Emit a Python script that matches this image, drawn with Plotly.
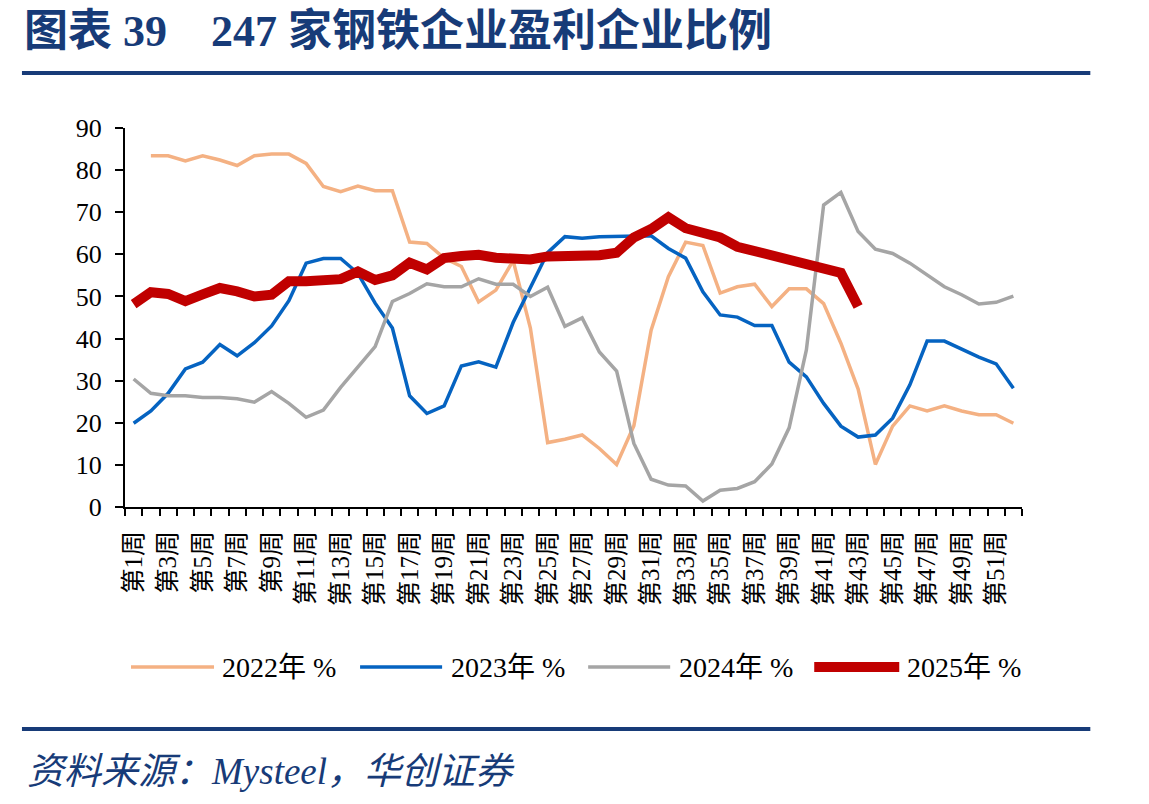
import plotly.graph_objects as go

# ---------------- data ----------------
weeks = ["第1周", "第2周", "第3周", "第4周", "第5周", "第6周", "第7周", "第8周", "第9周", "第10周",
         "第11周", "第12周", "第13周", "第14周", "第15周", "第16周", "第17周", "第18周", "第19周", "第20周",
         "第21周", "第22周", "第23周", "第24周", "第25周", "第26周", "第27周", "第28周", "第29周", "第30周",
         "第31周", "第32周", "第33周", "第34周", "第35周", "第36周", "第37周", "第38周", "第39周", "第40周",
         "第41周", "第42周", "第43周", "第44周", "第45周", "第46周", "第47周", "第48周", "第49周", "第50周",
         "第51周", "第52周"]

y2022 = [None, 83.4, 83.4, 82.2, 83.4, 82.4, 81.1, 83.4, 83.8, 83.8,
         81.6, 76.1, 74.9, 76.2, 75.1, 75.1, 62.9, 62.6, 59.1, 57.1,
         48.7, 51.5, 58.5, 42.5, 15.3, 16.1, 17.1, 13.9, 10.1, 19.3,
         42.0, 54.7, 62.9, 62.1, 50.8, 52.3, 52.9, 47.6, 51.8, 51.8,
         48.3, 38.9, 28.0, 10.1, 19.2, 24.0, 22.8, 24.0, 22.8, 21.9,
         21.9, 19.9]

y2023 = [19.9, 22.8, 27.0, 32.8, 34.4, 38.6, 35.9, 39.0, 43.0, 49.0,
         57.9, 59.0, 59.0, 55.5, 48.4, 42.5, 26.4, 22.2, 24.0, 33.5,
         34.5, 33.2, 43.8, 52.3, 60.4, 64.2, 63.8, 64.2, 64.3, 64.5,
         64.4, 61.4, 59.1, 51.1, 45.6, 45.1, 43.1, 43.1, 34.4, 30.9,
         24.6, 19.2, 16.6, 17.1, 21.1, 29.0, 39.4, 39.4, 37.5, 35.6,
         34.0, 28.2]

y2024 = [30.4, 27.0, 26.4, 26.4, 26.0, 26.0, 25.7, 24.9, 27.4, 24.6,
         21.3, 23.0, 28.4, 33.3, 38.1, 48.8, 50.7, 53.0, 52.3, 52.3,
         54.2, 52.9, 52.9, 50.0, 52.2, 42.9, 44.9, 36.8, 32.3, 15.1,
         6.6, 5.2, 5.0, 1.4, 4.0, 4.4, 6.0, 10.2, 18.8, 37.3,
         71.7, 74.7, 65.4, 61.2, 60.2, 57.9, 55.1, 52.3, 50.4, 48.2,
         48.6, 50.1]

y2025 = [48.2, 51.0, 50.6, 48.9, 50.5, 52.0, 51.2, 50.0, 50.4, 53.6,
         53.6, 53.6, 54.1, 55.9, 53.9, 55.0, 58.0, 56.4, 59.1, 59.6,
         59.9, 59.2, 59.2, 58.8, 59.5, 59.5, 59.5, 59.8, 60.4, 64.0,
         66.0, 68.8, 66.2, 65.2, 64.0, 61.8, 60.8, 59.4, 58.3, 57.2,
         56.6, 55.6, 47.6]

series_names = ["2022年 %", "2023年 %", "2024年 %", "2025年 %"]
series_colors = ["#F4B183", "#0563C1", "#A5A5A5", "#C00000"]
series_widths = [3.5, 3.5, 3.5, 10]

y_ticks = [0, 10, 20, 30, 40, 50, 60, 70, 80, 90]

title_text = "图表 39　247 家钢铁企业盈利企业比例"
source_text = "资料来源：<i>Mysteel</i>，华创证券"

# ---------------- layout helpers ----------------
W, H = 1149, 804
PL, PR, PT, PB = 125, 1021.7, 128, 507  # plot area in pixels


def px(x):
    return (x - PL) / (PR - PL)


def py(y):
    return (PB - y) / (PB - PT)


NAVY = "#173B78"
SERIF = "Times New Roman, Liberation Serif, Noto Sans CJK SC, serif"

x_idx = list(range(1, len(weeks) + 1))
all_y = [y2022, y2023, y2024, y2025]

fig = go.Figure()
for name, ys, col, lw in zip(series_names, all_y, series_colors, series_widths):
    fig.add_trace(go.Scatter(
        x=x_idx[:len(ys)], y=ys, mode="lines", name=name,
        line=dict(color=col, width=lw), connectgaps=False,
        showlegend=False, hoverinfo="x+y",
    ))

shapes = []
annotations = []

# title + rules
annotations.append(dict(
    text=f"<b>{title_text}</b>", x=px(22), y=py(31), xref="paper", yref="paper",
    xanchor="left", yanchor="middle", showarrow=False,
    font=dict(family="Liberation Serif, Noto Sans CJK SC", size=44, color=NAVY),
))
for yy in (73, 729):
    shapes.append(dict(type="line", xref="paper", yref="paper",
                       x0=px(22), x1=px(1090), y0=py(yy), y1=py(yy),
                       line=dict(color=NAVY, width=4)))

# source
annotations.append(dict(
    text=source_text, x=px(25), y=py(771), xref="paper", yref="paper",
    xanchor="left", yanchor="middle", showarrow=False,
    font=dict(family="Liberation Serif, Noto Sans CJK SC", size=37, color=NAVY, style="italic"),
))

# manual legend
leg_items = [(131, 214, 220), (360, 442, 449), (588, 670, 677), (814, 899, 905)]
LEG_Y = 667
for (x0, x1, xt), name, col, lw in zip(leg_items, series_names, series_colors, series_widths):
    shapes.append(dict(type="line", xref="paper", yref="paper",
                       x0=px(x0), x1=px(x1), y0=py(LEG_Y), y1=py(LEG_Y),
                       line=dict(color=col, width=lw)))
    annotations.append(dict(
        text=name, x=px(xt), y=py(LEG_Y), xref="paper", yref="paper",
        xanchor="left", yanchor="middle", showarrow=False,
        font=dict(family=SERIF, size=28, color="black"),
    ))

fig.update_layout(
    width=W, height=H, autosize=False,
    margin=dict(l=PL, r=W - PR, t=PT, b=H - PB, pad=0),
    paper_bgcolor="white", plot_bgcolor="white",
    showlegend=False,
    shapes=shapes, annotations=annotations,
    xaxis=dict(
        range=[0.5, len(weeks) + 0.5],
        tickmode="array", tickvals=x_idx[::2], ticktext=weeks[::2],
        tickangle=-90, ticks="outside", ticklen=8, tickcolor="rgba(0,0,0,0)",
        ticklabelstandoff=4,
        tickfont=dict(family=SERIF, size=25, color="black"),
        minor=dict(tickmode="array", tickvals=[i + 0.5 for i in range(len(weeks) + 1)],
                   ticks="outside", ticklen=7, tickwidth=1.5, tickcolor="black"),
        showline=True, linecolor="black", linewidth=2,
        showgrid=False, zeroline=False, fixedrange=True,
    ),
    yaxis=dict(
        range=[0, 90], tickmode="array", tickvals=y_ticks,
        ticks="outside", ticklen=8, tickwidth=2, tickcolor="black",
        ticklabelstandoff=8,
        tickfont=dict(family=SERIF, size=26, color="black"),
        showline=True, linecolor="black", linewidth=2,
        showgrid=False, zeroline=False, fixedrange=True,
    ),
)

fig.write_html("out.html")
